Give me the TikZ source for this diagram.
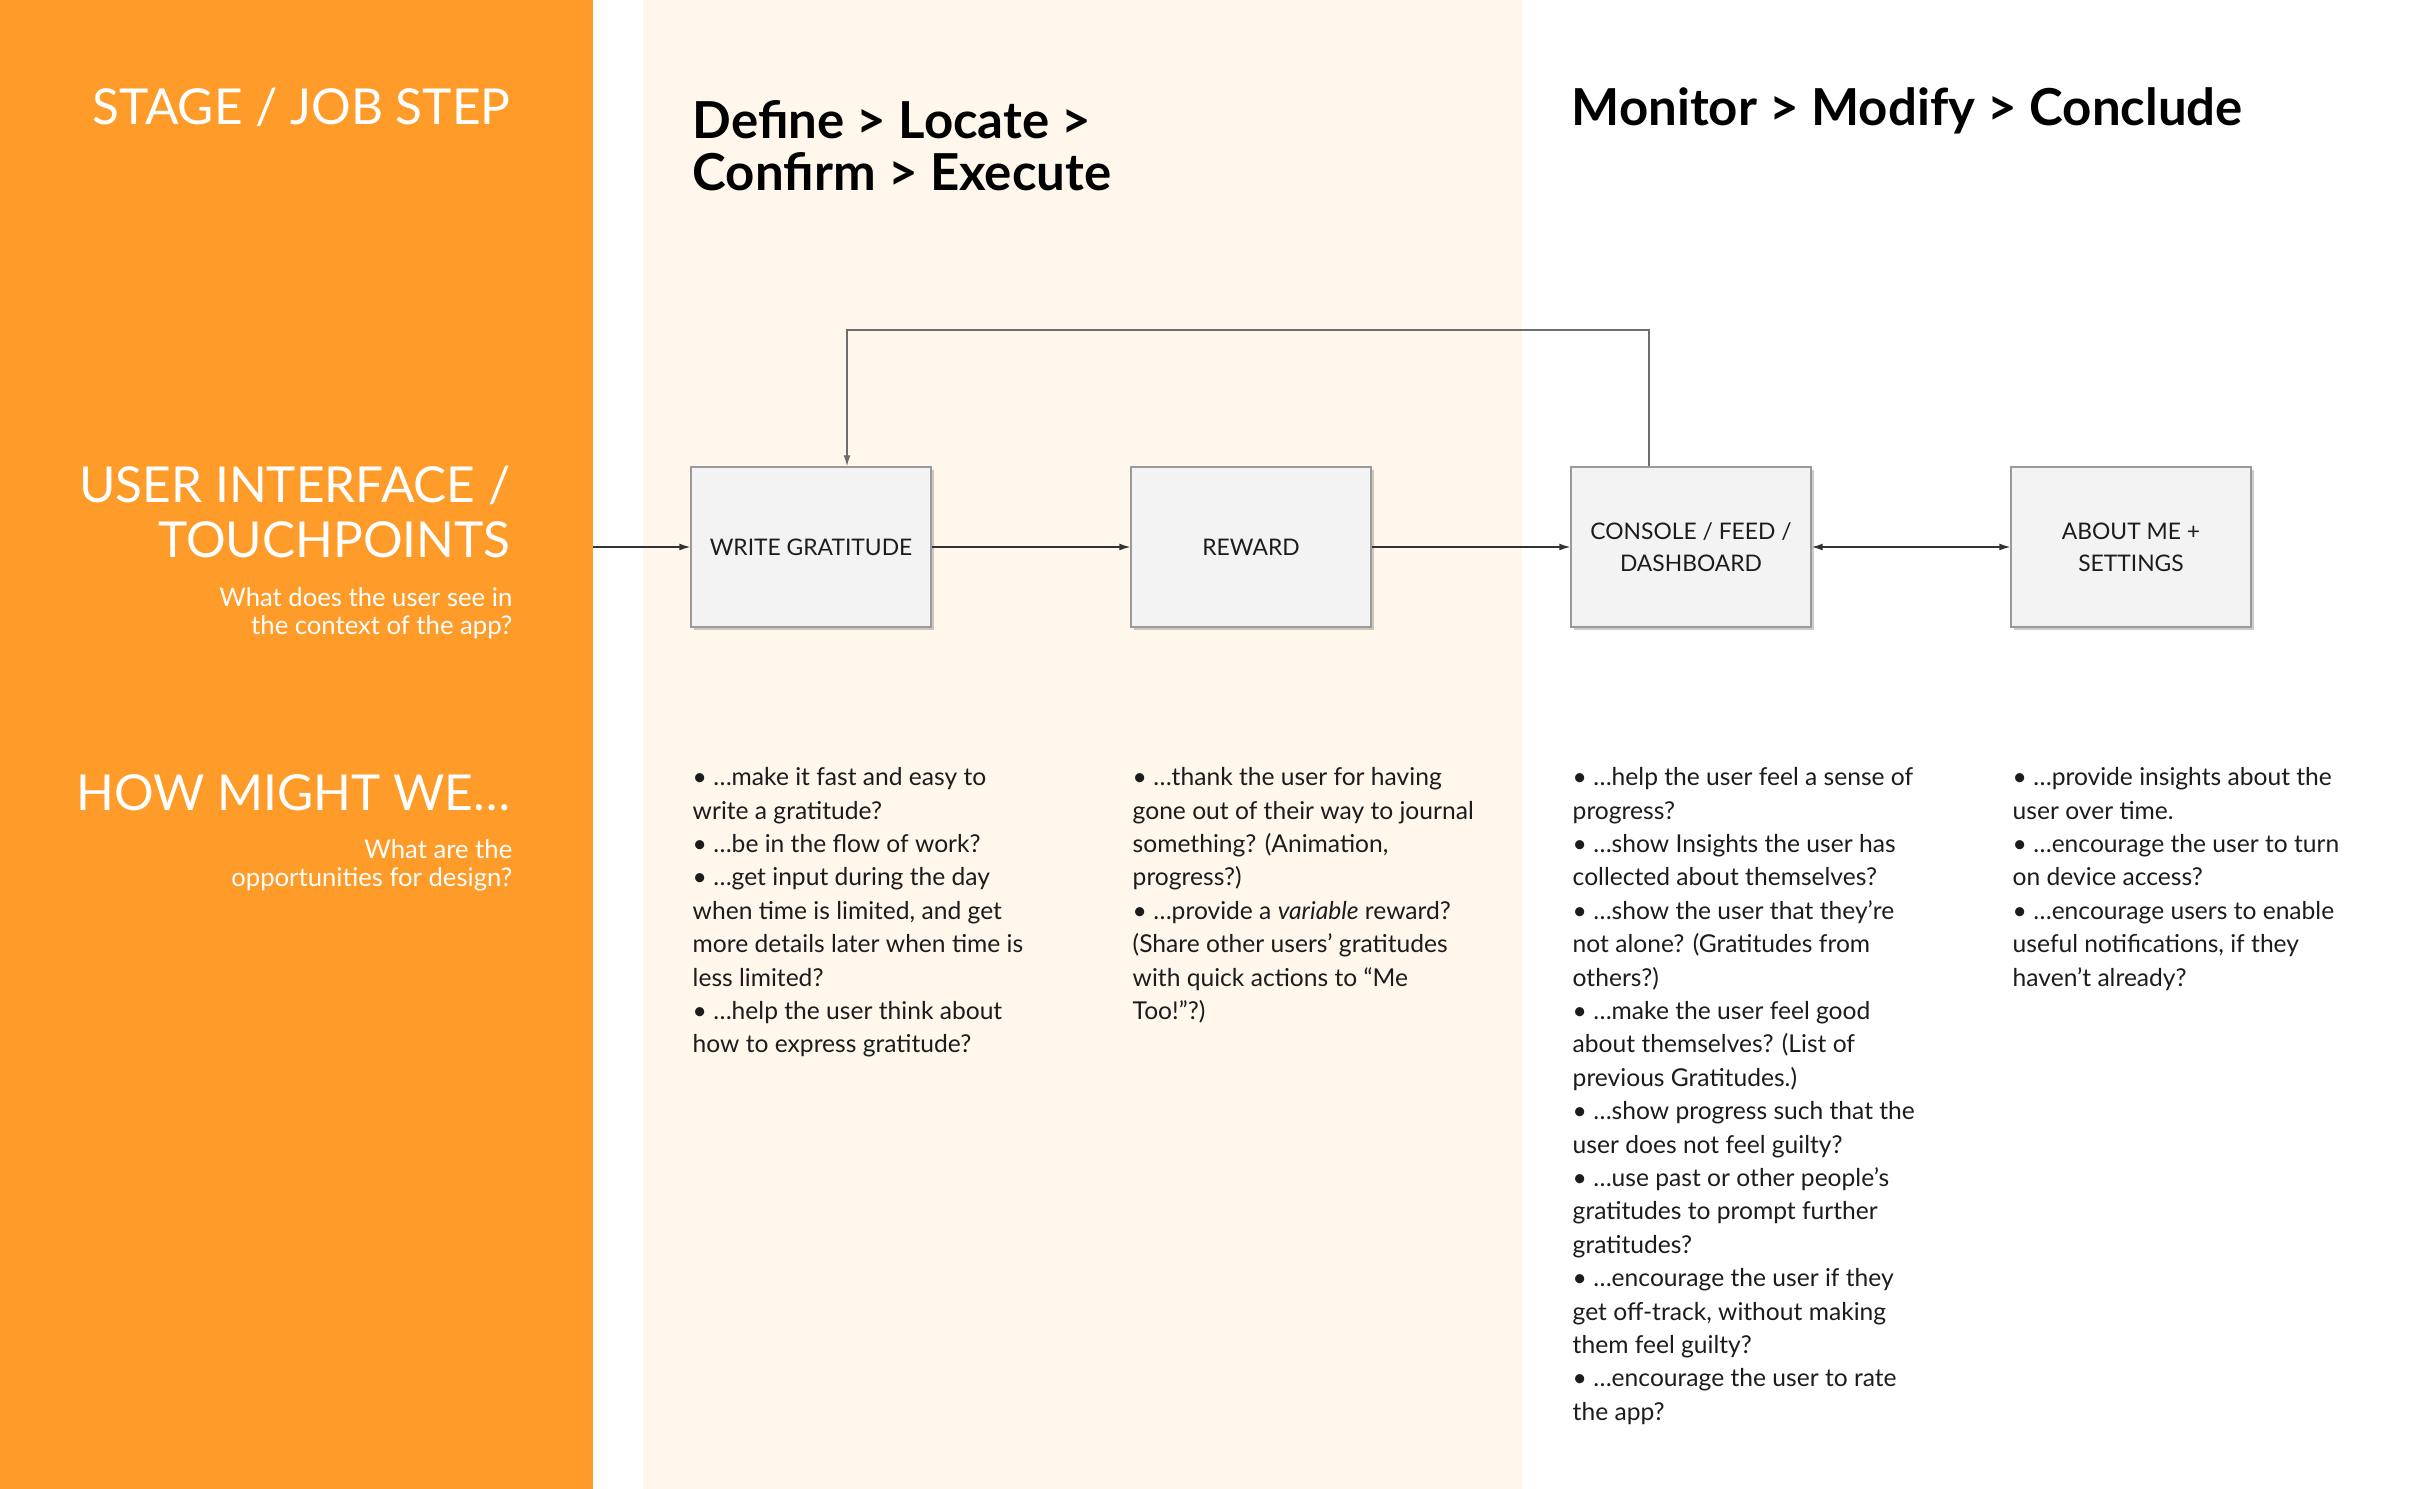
\documentclass[tikz,border=0pt]{standalone}
\usepackage{fontspec}
\setmainfont{Lato}
\usetikzlibrary{arrows.meta,positioning,shadows}

\definecolor{stageorange}{HTML}{FF9B29}
\definecolor{cream}{HTML}{FFF7EC}
\definecolor{boxgray}{HTML}{F3F3F3}
\definecolor{boxline}{HTML}{9A9A9A}
\definecolor{linegray}{HTML}{6E6E6E}
\definecolor{ink}{HTML}{1C1C1C}

\tikzset{
	screen/.style={draw=boxline, fill=boxgray, line width=0.4pt, minimum width=24mm, minimum height=16mm,
		align=center, inner sep=1mm, text=ink, font=\fontsize{6.5}{9.1}\selectfont,
		drop shadow={shadow xshift=0.3mm, shadow yshift=-0.3mm, fill=black, opacity=0.2}},
	rowhead/.style={anchor=north east, inner sep=0, align=right, text=white, font=\fontsize{14.1}{15.6}\selectfont},
	rowsub/.style={anchor=north east, inner sep=0, align=right, text=white, font=\fontsize{7.3}{7.9}\selectfont},
	phase/.style={anchor=north west, inner sep=0, align=left, text=black, font=\bfseries\fontsize{14.5}{14.7}\selectfont},
	hmw/.style={anchor=north west, inner sep=0, align=left, text=ink, font=\fontsize{7}{9.5}\selectfont},
	flow/.style={-{Latex[length=1.1mm,width=0.7mm]}, line width=0.4pt, draw=ink!90},
	flowboth/.style={{Latex[length=1.1mm,width=0.7mm]}-{Latex[length=1.1mm,width=0.7mm]}, line width=0.4pt, draw=ink!90},
}

\begin{document}
\begin{tikzpicture}[x=0.1mm,y=-0.1mm]
	\useasboundingbox (0,0) rectangle (2420,1489);
	
	% panels
	\fill[stageorange] (0,0) rectangle (593,1489);
	\fill[cream] (643,0) rectangle (1522,1489);
	
	% row headings
	\node[rowhead] (stagehead) at (511,87) {STAGE / JOB STEP};
	\node[rowhead] (uihead) at (511,465) {USER INTERFACE /\\TOUCHPOINTS};
	\node[rowsub] (uisub) at (513,587) {What does the user see in\\the context of the app?};
	\node[rowhead] (hmwhead) at (511,774) {HOW MIGHT WE…};
	\node[rowsub] (hmwsub) at (513,839) {What are the\\opportunities for design?};
	
	% phases
	\node[phase] (phaseone) at (692,100) {Define > Locate >\\Confirm > Execute};
	\node[phase] (phasetwo) at (1571,87) {Monitor > Modify > Conclude};
	
	% screens
	\node[screen] (wgbox) at (811,547) {WRITE GRATITUDE};
	\node[screen] (rewardbox) at (1251,547) {REWARD};
	\node[screen] (consolebox) at (1691,547) {CONSOLE / FEED /\\DASHBOARD};
	\node[screen] (aboutbox) at (2131,547) {ABOUT ME +\\SETTINGS};
	
	\coordinate (paneledge) at (593,547);
	\coordinate (looptop) at (0,330);
	
	\draw[flow] (paneledge) -- (wgbox);
	\draw[flow] (wgbox) -- (rewardbox);
	\draw[flow] (rewardbox) -- (consolebox);
	\draw[flowboth] (consolebox) -- (aboutbox);
	\draw[flow, draw=linegray] ([xshift=-4.2mm]consolebox.north) -- ([xshift=-4.2mm]consolebox.north |- looptop) -| ([xshift=3.6mm]wgbox.north);
	
	% how might we
	\node[hmw] (hmwone) at (692,767) {• …make it fast and easy to\\write a gratitude?\\• …be in the flow of work?\\• …get input during the day\\when time is limited, and get\\more details later when time is\\less limited?\\• …help the user think about\\how to express gratitude?};
	\node[hmw] (hmwtwo) at (1132,767) {• …thank the user for having\\gone out of their way to journal\\something? (Animation,\\progress?)\\• …provide a \textit{variable} reward?\\(Share other users’ gratitudes\\with quick actions to “Me\\Too!”?)};
	\node[hmw] (hmwthree) at (1572,767) {• …help the user feel a sense of\\progress?\\• …show Insights the user has\\collected about themselves?\\• …show the user that they’re\\not alone? (Gratitudes from\\others?)\\• …make the user feel good\\about themselves? (List of\\previous Gratitudes.)\\• …show progress such that the\\user does not feel guilty?\\• …use past or other people’s\\gratitudes to prompt further\\gratitudes?\\• …encourage the user if they\\get off-track, without making\\them feel guilty?\\• …encourage the user to rate\\the app?};
	\node[hmw] (hmwfour) at (2012,767) {• …provide insights about the\\user over time.\\• …encourage the user to turn\\on device access?\\• …encourage users to enable\\useful notifications, if they\\haven’t already?};
\end{tikzpicture}
\end{document}
